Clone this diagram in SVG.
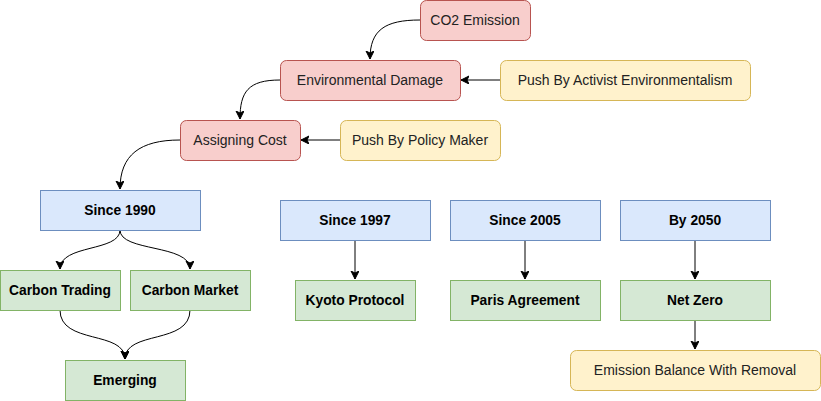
<svg xmlns="http://www.w3.org/2000/svg" width="821" height="401" viewBox="0 0 821 401">
<style>
.red{fill:#f8cecc;stroke:#b85450;stroke-width:1}
.yel{fill:#fff2cc;stroke:#d6b656;stroke-width:1}
.blu{fill:#dae8fc;stroke:#6c8ebf;stroke-width:1}
.grn{fill:#d5e8d4;stroke:#82b366;stroke-width:1}
text{font-family:"Liberation Sans",Arial,sans-serif;font-size:14px;fill:#222;text-anchor:middle;dominant-baseline:central}
.b{font-weight:bold;fill:#000;font-size:13.8px}
.e{fill:none;stroke:#000;stroke-width:1}
</style>
<defs>
<marker id="arr" markerWidth="10" markerHeight="10" refX="8" refY="4" orient="auto" markerUnits="userSpaceOnUse">
<path d="M0,0 L8,4 L0,8 L2,4 z" fill="#000" stroke="#000" stroke-width="1"/>
</marker>
</defs>
<rect width="821" height="401" fill="#fff"/>
<g id="connectors">
<path class="e" d="M420 20 C385 20 370 30 370 59" marker-end="url(#arr)"/>
<path class="e" d="M280 80 C248 80 240 92 240 119" marker-end="url(#arr)"/>
<path class="e" d="M180 140 C140 140 120 155 120 189" marker-end="url(#arr)"/>
<path class="e" d="M500 80 L461 80" marker-end="url(#arr)"/>
<path class="e" d="M340 140 L301 140" marker-end="url(#arr)"/>
<path class="e" d="M120 230 C120 252 60 244 60 269" marker-end="url(#arr)"/>
<path class="e" d="M120 230 C120 252 190 244 190 269" marker-end="url(#arr)"/>
<path class="e" d="M60 310 C60 345 125 330 125 359" marker-end="url(#arr)"/>
<path class="e" d="M190 310 C190 345 125 330 125 359" marker-end="url(#arr)"/>
<path class="e" d="M355 240 L355 279" marker-end="url(#arr)"/>
<path class="e" d="M525 240 L525 279" marker-end="url(#arr)"/>
<path class="e" d="M695 240 L695 279" marker-end="url(#arr)"/>
<path class="e" d="M695 320 L695 349" marker-end="url(#arr)"/>
</g>
<g id="co2"><rect class="red" x="420.5" y="0.5" width="110" height="40" rx="6"/><text x="475" y="20">CO2 Emission</text></g>
<g id="envdamage"><rect class="red" x="280.5" y="60.5" width="180" height="40" rx="6"/><text x="370" y="80">Environmental Damage</text></g>
<g id="activist"><rect class="yel" x="500.5" y="60.5" width="250" height="40" rx="6"/><text x="625" y="80">Push By Activist Environmentalism</text></g>
<g id="assigning"><rect class="red" x="180.5" y="120.5" width="120" height="40" rx="6"/><text x="240" y="140">Assigning Cost</text></g>
<g id="policy"><rect class="yel" x="340.5" y="120.5" width="160" height="40" rx="6"/><text x="420" y="140">Push By Policy Maker</text></g>
<g id="since1990"><rect class="blu" x="40.5" y="190.5" width="160" height="40"/><text class="b" x="120" y="210">Since 1990</text></g>
<g id="trading"><rect class="grn" x="0.5" y="270.5" width="120" height="40"/><text class="b" x="60" y="290">Carbon Trading</text></g>
<g id="market"><rect class="grn" x="130.5" y="270.5" width="120" height="40"/><text class="b" x="190" y="290">Carbon Market</text></g>
<g id="emerging"><rect class="grn" x="65.5" y="360.5" width="120" height="40"/><text class="b" x="125" y="380">Emerging</text></g>
<g id="since1997"><rect class="blu" x="280.5" y="200.5" width="150" height="40"/><text class="b" x="355" y="220">Since 1997</text></g>
<g id="since2005"><rect class="blu" x="450.5" y="200.5" width="150" height="40"/><text class="b" x="525" y="220">Since 2005</text></g>
<g id="by2050"><rect class="blu" x="620.5" y="200.5" width="150" height="40"/><text class="b" x="695" y="220">By 2050</text></g>
<g id="kyoto"><rect class="grn" x="295.5" y="280.5" width="120" height="40"/><text class="b" x="355" y="300">Kyoto Protocol</text></g>
<g id="paris"><rect class="grn" x="450.5" y="280.5" width="150" height="40"/><text class="b" x="525" y="300">Paris Agreement</text></g>
<g id="netzero"><rect class="grn" x="620.5" y="280.5" width="150" height="40"/><text class="b" x="695" y="300">Net Zero</text></g>
<g id="balance"><rect class="yel" x="570.5" y="350.5" width="250" height="40" rx="6"/><text x="695" y="370">Emission Balance With Removal</text></g>
</svg>
